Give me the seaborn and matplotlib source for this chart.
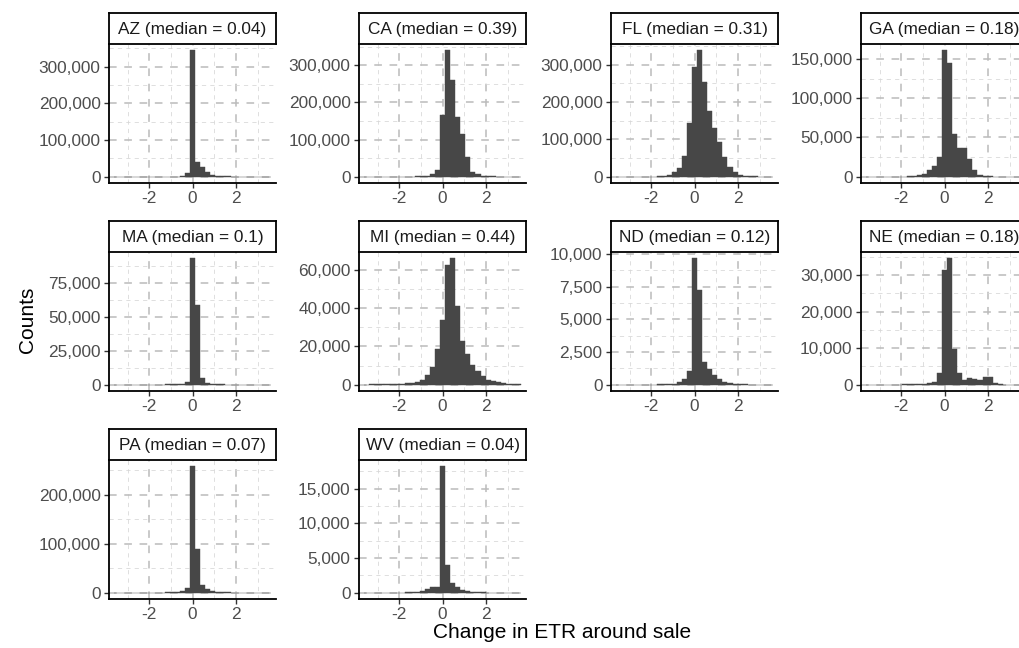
import numpy as np
import pandas as pd
import matplotlib
matplotlib.use("Agg")
import matplotlib.pyplot as plt
import seaborn as sns
from matplotlib.ticker import MultipleLocator, FuncFormatter

# ---------------- data ----------------
BIN_WIDTH = 0.2333
bin_index = [-15, -14, -13, -12, -11, -10, -9, -8, -7, -6, -5, -4, -3, -2, -1, 0,
             1, 2, 3, 4, 5, 6, 7, 8, 9, 10, 11, 12, 13, 14, 15]

states = ["AZ", "CA", "FL", "GA", "MA", "MI", "ND", "NE", "PA", "WV"]
medians = ["0.04", "0.39", "0.31", "0.18", "0.1", "0.44", "0.12", "0.18", "0.07", "0.04"]
y_tick_steps = [100000, 100000, 100000, 50000, 25000, 20000, 2500, 10000, 100000, 5000]

AZ = [0, 0, 0, 0, 0, 0, 0, 0, 0, 0, 0, 0, 300, 1000, 9000, 345000, 39000, 26000, 14000,
      5000, 2000, 1000, 500, 200, 0, 0, 0, 0, 0, 0, 0]
CA = [0, 0, 0, 0, 0, 0, 100, 150, 200, 300, 600, 1500, 3000, 7000, 17000, 165000, 340000,
      259000, 160000, 116000, 53000, 13000, 6000, 3000, 1200, 500, 200, 100, 50, 0, 0]
FL = [0, 0, 0, 0, 0, 100, 200, 400, 800, 1500, 3500, 12000, 24000, 55000, 143000, 294000,
      338000, 253000, 175000, 130000, 92000, 52000, 26000, 12000, 5000, 2000, 1000, 500, 250, 100, 0]
GA = [0, 0, 0, 0, 0, 100, 150, 200, 500, 1000, 2000, 3500, 8500, 14000, 25000, 161000,
      145000, 55000, 37000, 37000, 23000, 8000, 2500, 1000, 500, 200, 100, 0, 0, 0, 0]
MA = [0, 0, 0, 0, 0, 0, 0, 0, 0, 100, 150, 200, 300, 500, 1700, 92800, 58700, 5200, 1200,
      500, 300, 200, 100, 0, 0, 0, 0, 0, 0, 0, 0]
MI = [50, 100, 150, 200, 250, 300, 400, 500, 650, 1000, 1400, 2600, 5300, 9300, 18500, 34000,
      62500, 66000, 41000, 22900, 15800, 10200, 7000, 4400, 2600, 1800, 1200, 800, 500, 300, 200]
ND = [0, 0, 0, 0, 0, 0, 0, 0, 20, 30, 40, 80, 180, 440, 1030, 9670, 7280, 1700, 1180, 770,
      440, 200, 100, 60, 40, 30, 0, 0, 0, 0, 0]
NE = [0, 0, 0, 0, 0, 0, 0, 100, 120, 150, 200, 300, 500, 700, 3300, 31300, 34600, 9900, 3300,
      1200, 1750, 1550, 1300, 2200, 2100, 500, 100, 0, 0, 0, 0]
PA = [0, 0, 0, 0, 0, 0, 0, 100, 200, 300, 600, 1000, 2000, 4000, 10300, 258000, 89000, 16400,
      6800, 3400, 1500, 1000, 500, 300, 150, 0, 0, 0, 0, 0, 0]
WV = [0, 0, 0, 0, 0, 0, 0, 0, 50, 80, 150, 300, 530, 820, 870, 18200, 3970, 1450, 820, 440,
      250, 150, 80, 50, 0, 0, 0, 0, 0, 0, 0]

counts_by_state = [AZ, CA, FL, GA, MA, MI, ND, NE, PA, WV]

# ---------------- style ----------------
sns.set_theme(style="white")
plt.rcParams["font.family"] = ["Liberation Sans", "DejaVu Sans"]
plt.rcParams["axes.unicode_minus"] = False

BAR = "#474747"
MAJ = "#BBBBBB"
MIN = "#D6D6D6"
TICK_TXT = "#4D4D4D"

W_PX, H_PX = 1019, 648
fig = plt.figure(figsize=(W_PX / 100, H_PX / 100), dpi=100)
fig.patch.set_facecolor("white")

col_left = [109, 359, 611, 861]
row_top = [44, 252, 460]
pw, ph, sh = 167, 139, 31


def rect(x, y, w, h):
    return [x / W_PX, 1 - (y + h) / H_PX, w / W_PX, h / H_PX]


centers = [k * BIN_WIDTH for k in bin_index]
edges = [c - BIN_WIDTH / 2 for c in centers] + [centers[-1] + BIN_WIDTH / 2]
fmt = FuncFormatter(lambda v, _: f"{v:,.0f}")

for i, st in enumerate(states):
    r, c = divmod(i, 4)
    cnt = [float(v) for v in counts_by_state[i]]
    df = pd.DataFrame({"x": centers, "w": cnt})
    ax = fig.add_axes(rect(col_left[c], row_top[r], pw, ph))
    sns.histplot(data=df, x="x", weights="w", bins=edges, ax=ax, color=BAR,
                 alpha=1, edgecolor=BAR, linewidth=0.3)
    M = max(cnt)
    ax.set_xlim(-3.86, 3.85)
    ax.set_ylim(-0.05 * M, 1.05 * M)
    ax.set_xlabel("")
    ax.set_ylabel("")
    ax.set_facecolor("white")
    ax.xaxis.set_major_locator(MultipleLocator(2))
    ax.xaxis.set_minor_locator(MultipleLocator(1))
    step = y_tick_steps[i]
    ax.yaxis.set_major_locator(MultipleLocator(step))
    ax.yaxis.set_minor_locator(MultipleLocator(step / 2))
    ax.yaxis.set_major_formatter(fmt)
    ax.xaxis.set_major_formatter(FuncFormatter(lambda v, _: f"{v:.0f}"))
    ax.set_axisbelow(True)
    ax.grid(which="major", color=MAJ, linestyle=(0, (5, 5)), linewidth=1.1)
    ax.grid(which="minor", color=MIN, linestyle=(0, (5.5, 5.5)), linewidth=0.55)
    for s in ["top", "right"]:
        ax.spines[s].set_visible(False)
    for s in ["left", "bottom"]:
        ax.spines[s].set_visible(True)
        ax.spines[s].set_color("black")
        ax.spines[s].set_linewidth(1.3)
    ax.tick_params(which="major", direction="out", length=3.6, width=1.0,
                   color="#333333", labelcolor=TICK_TXT, labelsize=12.4, pad=2.5,
                   left=True, bottom=True)
    ax.tick_params(which="minor", length=0)

    sax = fig.add_axes(rect(col_left[c], row_top[r] - sh, pw, sh))
    sax.set_facecolor("white")
    sax.set_xticks([])
    sax.set_yticks([])
    for s in sax.spines.values():
        s.set_visible(True)
        s.set_color("black")
        s.set_linewidth(1.3)
    sax.text(0.5, 0.48, f"{st} (median = {medians[i]})", ha="center", va="center",
             fontsize=12.4, color="#1A1A1A", transform=sax.transAxes)

fig.text(562 / W_PX, 1 - 633 / H_PX, "Change in ETR around sale", ha="center",
         va="center", fontsize=15, color="black")
fig.text(27 / W_PX, 1 - 320 / H_PX, "Counts", ha="center", va="center",
         rotation=90, fontsize=15, color="black")

fig.savefig("out.png", dpi=100, facecolor="white")
